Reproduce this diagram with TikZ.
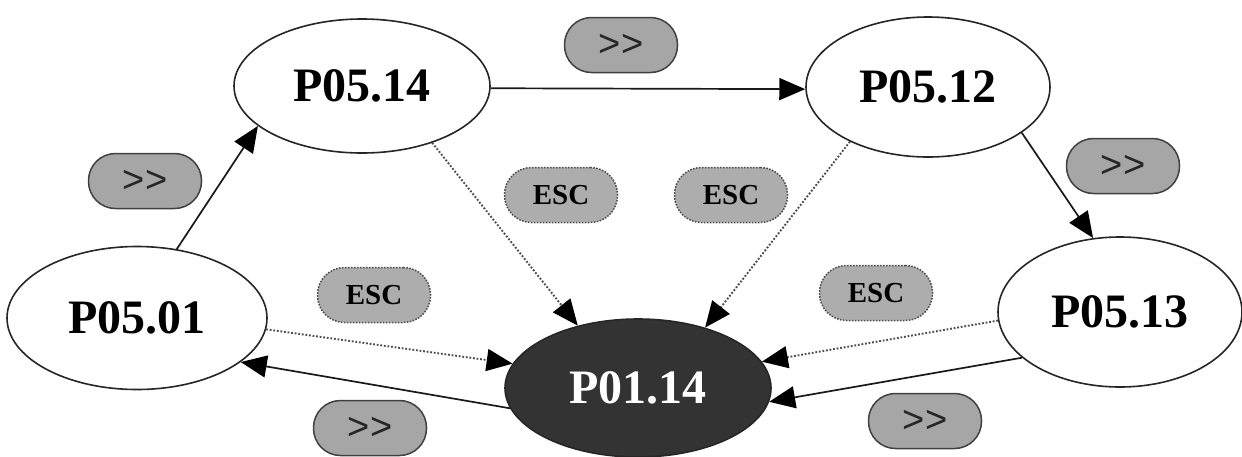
\documentclass[tikz,border=0pt]{standalone}
\usepackage{fontspec}
\setmainfont{Liberation Serif}
\newfontfamily\symfont{Liberation Sans}
\usetikzlibrary{arrows.meta,shapes.geometric}

\begin{document}
\begin{tikzpicture}[
  x=1pt,
  y=-1pt,
  state/.style={ellipse,draw=black!85,line width=1.6pt,fill=white,inner sep=0pt,
    font=\fontsize{48}{50}\selectfont\bfseries},
  hub/.style={state,fill=black!80,text=white},
  fwd/.style={rectangle,rounded corners=27pt,minimum width=113pt,minimum height=55pt,
    fill=black!35,draw=black!75,line width=1.5pt,text=black!85,
    font=\symfont\fontsize{38}{40}\selectfont},
  esc/.style={fwd,fill=black!32,draw=black!70,dash pattern=on 1.6pt off 1.4pt,
    text=black,font=\fontsize{29}{31}\selectfont\bfseries},
  link/.style={draw=black!90,line width=1.7pt,-{Triangle[length=26pt,width=22pt,color=black]}},
  weak/.style={link,draw=black!70,line width=1.9pt,dash pattern=on 1.8pt off 1.8pt}
]
\useasboundingbox (0,0) rectangle (1242,456);

\node[state,minimum width=260pt,minimum height=143pt] (p0501) at (137,318) {P05.01};
\node[state,minimum width=256pt,minimum height=134pt] (p0514) at (362,86) {P05.14};
\node[state,minimum width=244pt,minimum height=140pt] (p0512) at (928,87) {P05.12};
\node[state,minimum width=244pt,minimum height=150pt] (p0513) at (1120,312) {P05.13};
\node[hub,minimum width=266pt,minimum height=138pt] (p0114) at (638,388) {P01.14};

\foreach \n/\x/\y in {fwdA/621/45,fwdB/145/181,fwdC/1123/166,fwdD/370/428,fwdE/925/421} {
  \node[fwd] (\n) at (\x,\y) {\textgreater\textgreater};
}
\foreach \n/\x/\y in {escA/561/195,escB/731/195,escC/374/295,escD/876/293} {
  \node[esc] (\n) at (\x,\y) {ESC};
}

\draw[link] (p0501.60) -- (p0514.201);
\draw[link] (p0514.-1) -- (p0512.181);
\draw[link] (p0512.-26) -- (p0513.110);
\draw[link] (p0114.189) -- (p0501.-23);
\draw[link] (p0513.205) -- (p0114.-6);

\draw[weak] (p0501.-5) -- (p0114.169);
\draw[weak] (p0514.-39) -- (p0114.134);
\draw[weak] (p0512.215) -- (p0114.42);
\draw[weak] (p0513.184) -- (p0114.12);
\end{tikzpicture}
\end{document}
